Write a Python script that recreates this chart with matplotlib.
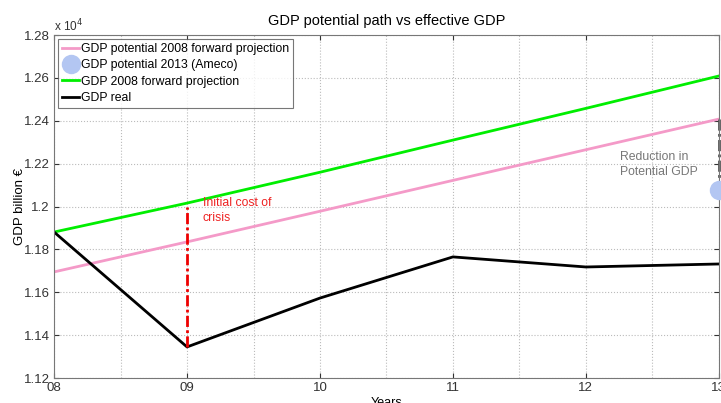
import matplotlib
matplotlib.use('Agg')
import matplotlib.pyplot as plt
from matplotlib.ticker import FuncFormatter, MultipleLocator
import numpy as np

plt.rcParams['font.family'] = ['Liberation Sans', 'DejaVu Sans']

# data (billion euro)
years = [8, 9, 10, 11, 12, 13]
year_labels = ['08', '09', '10', '11', '12', '13']
gdp_real = [11881, 11345, 11573, 11765, 11718, 11732]
proj_2008 = [11881, 12016, 12160, 12310, 12458, 12609]
pot_2008 = [11695, 11835, 11978, 12122, 12265, 12408]
pot_2013_year = 13
pot_2013 = 12077

fig = plt.figure(figsize=(7.21, 4.03), dpi=100)
ax = fig.add_axes([0.075, 0.062, 0.922, 0.851])

ax.plot(years, pot_2008, color='#f49ac8', lw=2, label='GDP potential 2008 forward projection')
ax.plot([pot_2013_year], [pot_2013], 'o', color='#b3c6f2', ms=14, mec='none',
        label='GDP potential 2013 (Ameco)', clip_on=False, zorder=5)
ax.plot(years, proj_2008, color='#00ee00', lw=2, label='GDP 2008 forward projection')
ax.plot(years, gdp_real, color='black', lw=2, label='GDP real')

# annotations
ax.plot([9, 9], [gdp_real[1], 11998], color='#ee0000', lw=2, ls=(0, (4, 1.2, 1, 1.2)))
ax.plot([13, 13], [pot_2008[-1], pot_2013], color='#555555', lw=2, ls=(0, (4, 1.2, 1, 1.2)), clip_on=False)
ax.text(9.12, 11982, 'Initial cost of\ncrisis', color='#ee2222', fontsize=8.8, va='center', linespacing=1.35)
ax.text(12.26, 12195, 'Reduction in\nPotential GDP', color='#777777', fontsize=8.8, va='center', linespacing=1.35)

ax.set_xlim(8, 13)
ax.set_ylim(11200, 12800)
ax.set_xticks(years)
ax.set_xticklabels(year_labels)
ax.xaxis.set_minor_locator(MultipleLocator(0.5))
ax.yaxis.set_major_locator(MultipleLocator(200))
ax.yaxis.set_major_formatter(FuncFormatter(lambda v, p: '%g' % (v / 1e4)))
ax.tick_params(which='both', direction='in', top=True, right=True, labelsize=9.5, colors='#333333')
ax.tick_params(which='minor', length=0)
ax.tick_params(axis='x', pad=3)
ax.tick_params(axis='y', pad=3)
ax.grid(True, which='both', ls=':', color='#bbbbbb', lw=0.8)
ax.yaxis.grid(True, which='minor', ls='')
for s in ax.spines.values():
    s.set_color('#777777')

ax.text(0, 1.003, 'x 10$^4$', transform=ax.transAxes, fontsize=8.5, ha='left', va='bottom', color='#333333')
ax.set_title('GDP potential path vs effective GDP', fontsize=10.5, pad=7)
ax.set_xlabel('Years', fontsize=9)
ax.xaxis.set_label_coords(0.5, -0.055)
ax.set_ylabel('GDP billion €', fontsize=9.5)
ax.yaxis.set_label_coords(-0.042, 0.5)

leg = ax.legend(loc='upper left', fontsize=8.8, frameon=True, fancybox=False,
                edgecolor='#555555', handlelength=1.4, handletextpad=0.15,
                borderaxespad=0.35, labelspacing=0.35, borderpad=0.3)
leg.get_frame().set_linewidth(0.8)

fig.savefig('out.png', dpi=100)
